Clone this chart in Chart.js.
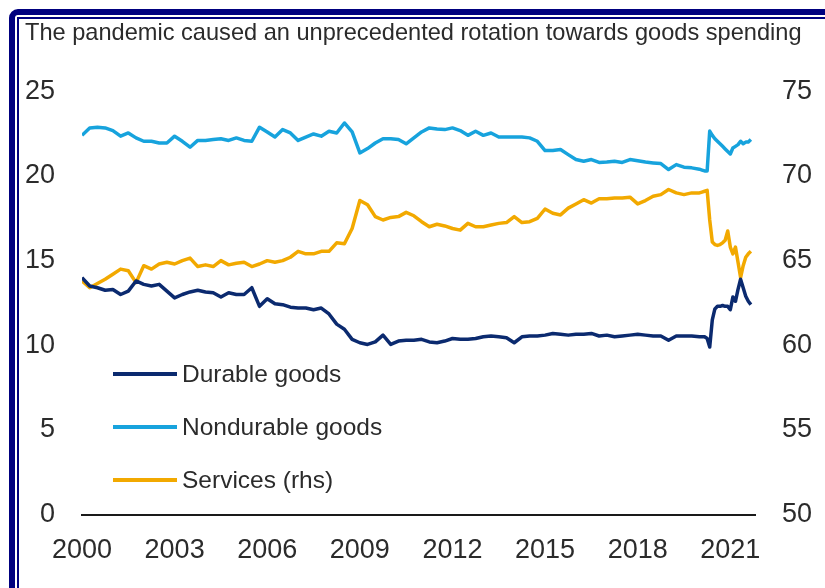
<!DOCTYPE html>
<html>
<head>
<meta charset="utf-8">
<script src="https://cdn.jsdelivr.net/npm/chart.js@4.4.1/dist/chart.umd.min.js"></script>
<style>
html, body { margin: 0; padding: 0; background: #fff; }
#wrap { position: relative; width: 825px; height: 588px; overflow: hidden; }
.frameOuter { position: absolute; left: 9px; top: 9px; width: 900px; height: 700px; border: 6px solid #00007f; border-radius: 9px; }
.frameInner { position: absolute; left: 17px; top: 17px; width: 900px; height: 700px; border: 2px solid #00007f; }
canvas { position: absolute; left: 0; top: 0; }
</style>
</head>
<body>
<div id="wrap">
  <div class="frameOuter"></div>
  <div class="frameInner"></div>
  <canvas id="chart" width="825" height="588"></canvas>
</div>
<script>
// #region Data (share of spending, %; quarterly to 2019, monthly after)
const dates = [
  2000, 2000.25, 2000.5, 2000.75, 2001, 2001.25, 2001.5, 2001.75,
  2002, 2002.25, 2002.5, 2002.75, 2003, 2003.25, 2003.5, 2003.75,
  2004, 2004.25, 2004.5, 2004.75, 2005, 2005.25, 2005.5, 2005.75,
  2006, 2006.25, 2006.5, 2006.75, 2007, 2007.25, 2007.5, 2007.75,
  2008, 2008.25, 2008.5, 2008.75, 2009, 2009.25, 2009.5, 2009.75,
  2010, 2010.25, 2010.5, 2010.75, 2011, 2011.25, 2011.5, 2011.75,
  2012, 2012.25, 2012.5, 2012.75, 2013, 2013.25, 2013.5, 2013.75,
  2014, 2014.25, 2014.5, 2014.75, 2015, 2015.25, 2015.5, 2015.75,
  2016, 2016.25, 2016.5, 2016.75, 2017, 2017.25, 2017.5, 2017.75,
  2018, 2018.25, 2018.5, 2018.75, 2019, 2019.25, 2019.5, 2019.75,
  2020, 2020.083, 2020.167, 2020.25, 2020.333, 2020.417, 2020.5, 2020.583,
  2020.667, 2020.75, 2020.833, 2020.917, 2021, 2021.083, 2021.167, 2021.25,
  2021.333, 2021.417, 2021.5, 2021.583, 2021.667
];
const durable = [
  14.0, 13.5, 13.4, 13.25, 13.3, 13.0, 13.2, 13.8,
  13.6, 13.5, 13.6, 13.2, 12.8, 13.0, 13.15, 13.25,
  13.15, 13.1, 12.85, 13.1, 13.0, 13.0, 13.4, 12.3,
  12.75, 12.45, 12.4, 12.25, 12.2, 12.2, 12.1, 12.2,
  11.85, 11.25, 10.95, 10.35, 10.15, 10.05, 10.2, 10.6,
  10.05, 10.25, 10.3, 10.3, 10.35, 10.2, 10.15, 10.25,
  10.4, 10.35, 10.35, 10.4, 10.5, 10.55, 10.5, 10.45,
  10.15, 10.5, 10.55, 10.55, 10.6, 10.7, 10.65, 10.6,
  10.65, 10.65, 10.7, 10.55, 10.6, 10.5, 10.55, 10.6,
  10.65, 10.6, 10.55, 10.55, 10.3, 10.55, 10.55, 10.55,
  10.5, 10.5, 10.5, 10.4, 9.9, 11.5, 12.15, 12.3,
  12.3, 12.35, 12.3, 12.3, 12.1, 12.85, 12.6, 13.3,
  13.9, 13.4, 12.9, 12.6, 12.4
];
const nondurable = [
  22.4, 22.84, 22.88, 22.84, 22.68, 22.35, 22.54, 22.25,
  22.05, 22.05, 21.95, 21.95, 22.35, 22.05, 21.7, 22.1,
  22.1, 22.15, 22.2, 22.1, 22.25, 22.1, 22.05, 22.88,
  22.6, 22.3, 22.74, 22.54, 22.1, 22.3, 22.48, 22.35,
  22.64, 22.54, 23.13, 22.6, 21.36, 21.62, 21.95, 22.2,
  22.2, 22.15, 21.9, 22.25, 22.6, 22.84, 22.78, 22.74,
  22.84, 22.68, 22.4, 22.64, 22.4, 22.54, 22.3, 22.3,
  22.3, 22.3, 22.25, 22.05, 21.5, 21.5, 21.56, 21.26,
  20.97, 20.87, 20.97, 20.8, 20.82, 20.87, 20.8, 20.97,
  20.9, 20.82, 20.77, 20.73, 20.38, 20.67, 20.52, 20.48,
  20.4, 20.35, 20.3, 20.3, 22.65, 22.4, 22.2, 22.05,
  21.9, 21.75, 21.6, 21.45, 21.3, 21.65, 21.75, 21.85,
  22.05, 21.9, 22.0, 22.0, 22.15
];
const services = [
  63.8, 63.4, 63.65, 63.9, 64.2, 64.5, 64.4, 63.7,
  64.7, 64.5, 64.8, 64.9, 64.8, 65.0, 65.15, 64.65,
  64.75, 64.65, 65.0, 64.75, 64.85, 64.9, 64.65, 64.8,
  65.0, 64.9, 65.0, 65.2, 65.55, 65.4, 65.4, 65.55,
  65.55, 66.05, 66.0, 66.9, 68.55, 68.3, 67.6, 67.4,
  67.55, 67.6, 67.85, 67.65, 67.3, 67.0, 67.15, 67.05,
  66.9, 66.8, 67.2, 67.0, 67.0, 67.1, 67.2, 67.25,
  67.6, 67.25, 67.3, 67.5, 68.05, 67.8, 67.7, 68.1,
  68.35, 68.6, 68.4, 68.65, 68.65, 68.7, 68.7, 68.75,
  68.35, 68.55, 68.8, 68.9, 69.2, 69.0, 68.9, 69.0,
  69.0, 69.05, 69.1, 69.15, 67.4, 66.1, 65.95, 65.9,
  65.95, 66.05, 66.2, 66.75, 65.8, 65.4, 65.8, 64.9,
  64.0, 64.7, 65.2, 65.4, 65.55
];
const yearTicks = [2000, 2003, 2006, 2009, 2012, 2015, 2018, 2021];
const lhsTicks = [0, 5, 10, 15, 20, 25];
const rhsTicks = [50, 55, 60, 65, 70, 75];
//#endregion

const FONT = "'Liberation Sans', Arial, sans-serif";
const TEXT = '#2b2b2b';
Chart.defaults.font.family = FONT;
Chart.defaults.color = TEXT;

const toPoints = vals => vals.map((v, i) => ({x: dates[i], y: v}));

// legend sits inside the plot, bottom-left
const insideLegend = {
    id: 'insideLegend',
    afterDatasetsDraw(chart) {
        const ctx = chart.ctx;
        const left = chart.chartArea.left + 31;
        ctx.save();
        ctx.font = '24.5px ' + FONT;
        ctx.textBaseline = 'middle';
        chart.data.datasets.forEach((ds, i) => {
            const y = 374 + i * 53;
            ctx.strokeStyle = ds.borderColor;
            ctx.lineWidth = 4;
            ctx.beginPath();
            ctx.moveTo(left, y);
            ctx.lineTo(left + 64, y);
            ctx.stroke();
            ctx.fillStyle = TEXT;
            ctx.fillText(ds.label, left + 69, y + 1);
        });
        ctx.restore();
    }
};

const tickFont = {size: 27};
// keep the y labels from pushing the plot area around
const fitY = w => s => { s.width = w; s.paddingTop = 0; s.paddingBottom = 0; };

new Chart(document.getElementById('chart'), {
    type: 'line',
    data: {
        datasets: [
            {label: 'Durable goods', data: toPoints(durable), borderColor: '#0b2a6f', yAxisID: 'y'},
            {label: 'Nondurable goods', data: toPoints(nondurable), borderColor: '#17a3dd', yAxisID: 'y'},
            {label: 'Services (rhs)', data: toPoints(services), borderColor: '#f2a900', yAxisID: 'y2'}
        ]
    },
    options: {
        responsive: false,
        animation: false,
        elements: {
            point: {radius: 0},
            line: {borderWidth: 3.5, tension: 0, borderJoinStyle: 'round'}
        },
        layout: {padding: {left: 25, right: 0, top: 0, bottom: 1}},
        plugins: {
            legend: {display: false},
            tooltip: {enabled: false},
            title: {
                display: true,
                text: 'The pandemic caused an unprecedented rotation towards goods spending',
                align: 'start',
                color: TEXT,
                font: {size: 23.6, weight: 'normal'},
                padding: {top: 19, bottom: 44}
            }
        },
        scales: {
            x: {
                type: 'linear',
                min: 2000,
                max: 2021.8,
                grid: {display: false, drawTicks: false},
                border: {display: true, color: '#1a1a1a', width: 2},
                afterBuildTicks: s => { s.ticks = yearTicks.map(v => ({value: v})); },
                ticks: {font: tickFont, padding: 20, autoSkip: false, maxRotation: 0, callback: v => String(v)}
            },
            y: {
                position: 'left',
                min: 0,
                max: 25,
                grid: {display: false, drawTicks: false},
                border: {display: false},
                afterBuildTicks: s => { s.ticks = lhsTicks.map(v => ({value: v})); },
                afterFit: fitY(57),
                ticks: {font: tickFont, padding: 27}
            },
            y2: {
                position: 'right',
                min: 50,
                max: 75,
                grid: {display: false, drawTicks: false},
                border: {display: false},
                afterBuildTicks: s => { s.ticks = rhsTicks.map(v => ({value: v})); },
                afterFit: fitY(70),
                ticks: {font: tickFont, padding: 27}
            }
        }
    },
    plugins: [insideLegend]
});
</script>
</body>
</html>
